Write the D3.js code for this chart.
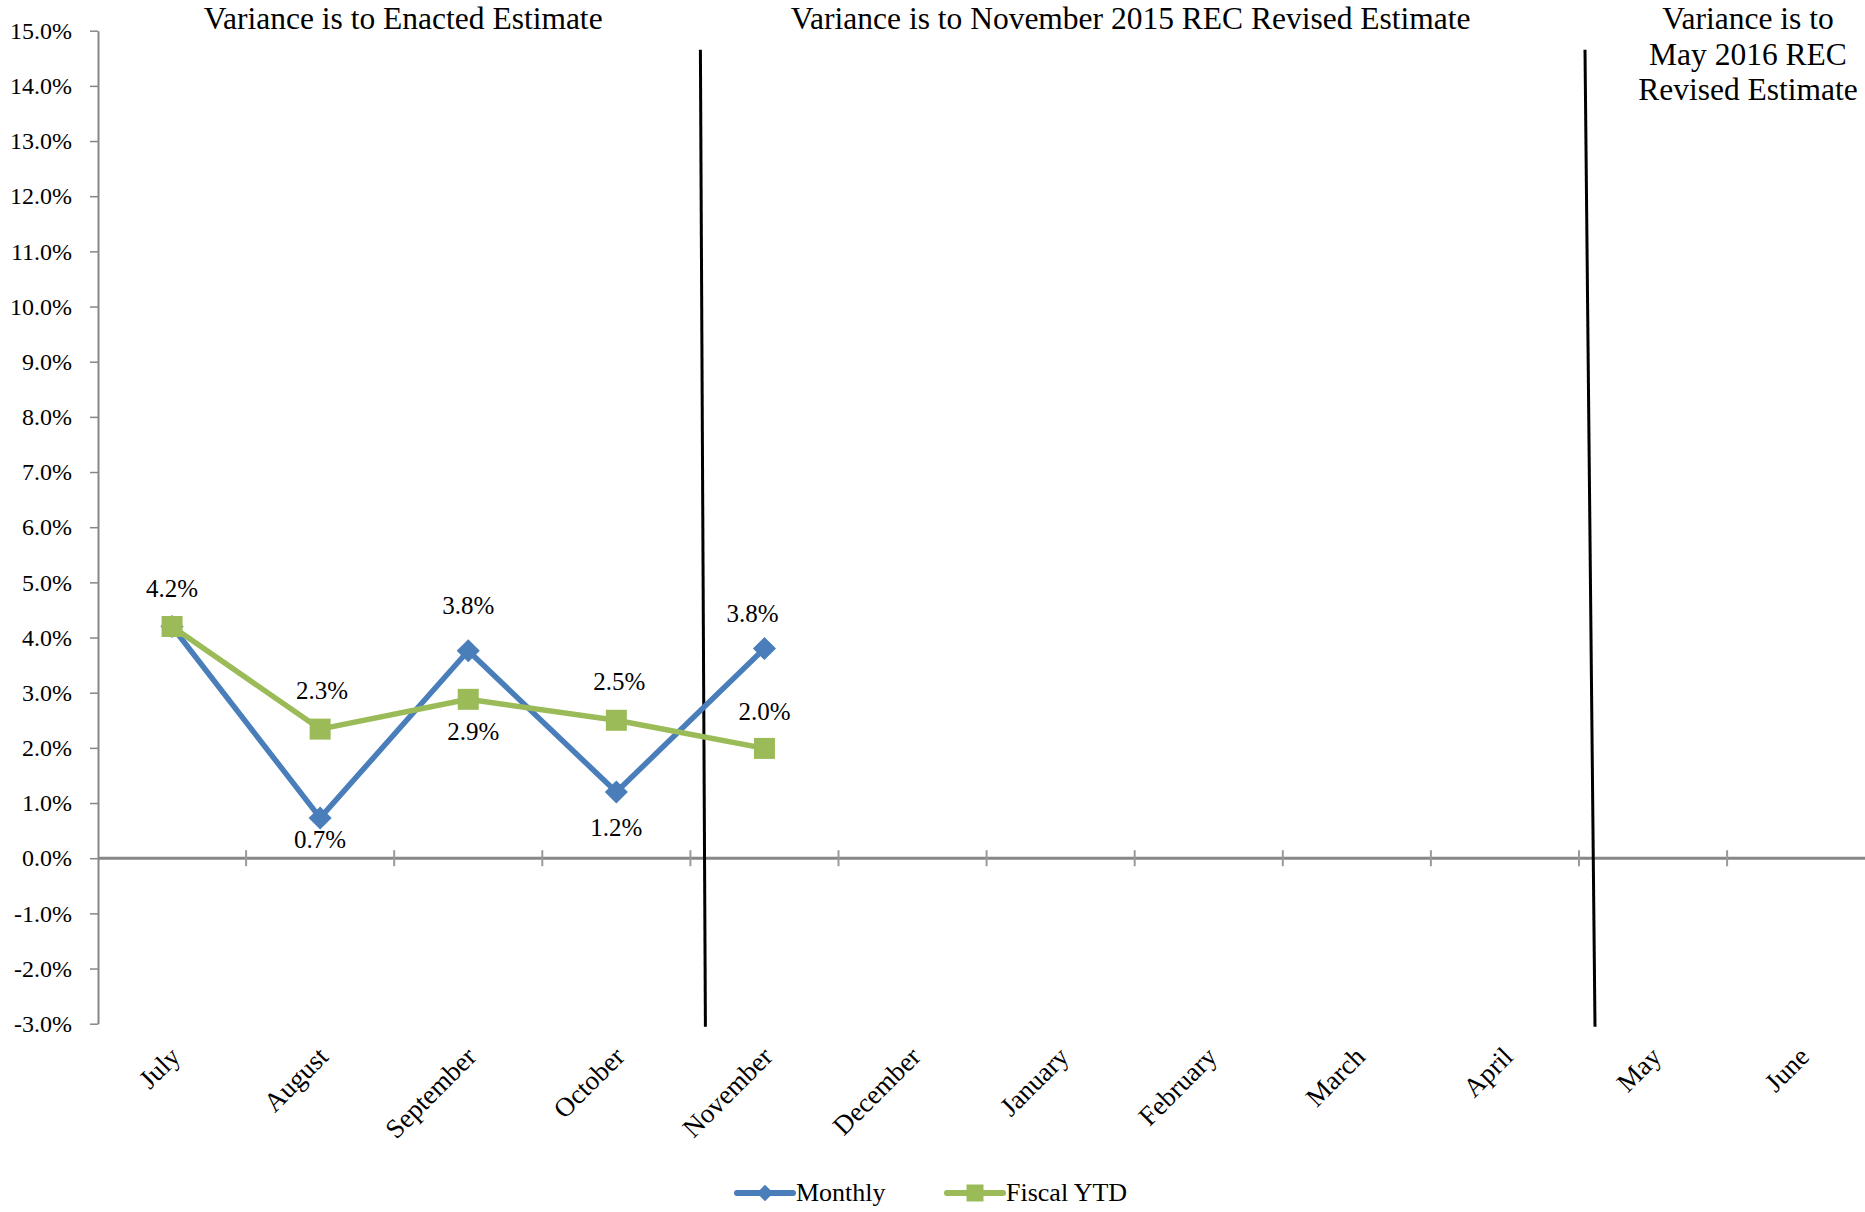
<!DOCTYPE html>
<html>
<head>
<meta charset="utf-8">
<script src="https://cdn.jsdelivr.net/npm/d3@7"></script>
<style>
  body { margin: 0; background: #fff; }
  svg text { font-family: 'Liberation Serif', 'Times New Roman', Times, serif !important; fill: #000; }
</style>
</head>
<body>
<div id="chart"></div>
<script>
/* global d3 */

const months = ['July', 'August', 'September', 'October', 'November', 'December',
  'January', 'February', 'March', 'April', 'May', 'June']
// values in percent
const monthly = [4.2, 0.73, 3.76, 1.2, 3.8]
const fiscalYtd = [4.2, 2.34, 2.88, 2.5, 1.99]
const yTicks = [-3, -2, -1, 0, 1, 2, 3, 4, 5, 6, 7, 8, 9, 10, 11, 12, 13, 14, 15]
const seriesNames = ['Monthly', 'Fiscal YTD']
const periodTitles = [
  ['Variance is to Enacted Estimate'],
  ['Variance is to November 2015 REC Revised Estimate'],
  ['Variance is to', 'May 2016 REC', 'Revised Estimate']
]

const WIDTH = 1865
const HEIGHT = 1212
const SERIF = "'Liberation Serif', 'Times New Roman', Times, serif"
const BLUE = '#4a7ebb'
const GREEN = '#9bbb59'
const AXIS_GREY = '#878787'

const svg = d3.select('#chart')
  .append('svg')
  .attr('width', WIDTH)
  .attr('height', HEIGHT)
  .attr('font-family', SERIF)

const x = d3.scaleBand()
  .domain(months)
  .range([98, 98 + 148.1 * months.length])

const y = d3.scaleLinear()
  .domain([-3, 15])
  .range([1023.7, 30.7])

const cx = (m) => x(m) + x.bandwidth() / 2

// y axis
const yAxis = d3.axisLeft(y)
  .tickValues(yTicks)
  .tickFormat((d) => d.toFixed(1) + '%')
  .tickSizeInner(8)
  .tickSizeOuter(0)
  .tickPadding(18)

const yg = svg.append('g')
  .attr('transform', `translate(${x.range()[0]},0)`)
  .call(yAxis)
  .attr('font-family', SERIF)
  .attr('font-size', 24)
yg.select('.domain').attr('stroke', AXIS_GREY).attr('stroke-width', 2)
yg.selectAll('.tick line').attr('stroke', AXIS_GREY).attr('stroke-width', 1.5)
yg.selectAll('.tick text')
  .attr('font-family', SERIF)
  .attr('fill', '#000')

// category axis sits on the zero line, ticks cross it between categories
const y0 = y(0)
svg.append('line')
  .attr('x1', x.range()[0])
  .attr('x2', x.range()[1])
  .attr('y1', y0)
  .attr('y2', y0)
  .attr('stroke', AXIS_GREY)
  .attr('stroke-width', 3)

svg.selectAll('.xtick')
  .data(months.slice(1))
  .join('line')
  .attr('class', 'xtick')
  .attr('x1', (d) => x(d))
  .attr('x2', (d) => x(d))
  .attr('y1', y0 - 8)
  .attr('y2', y0 + 8)
  .attr('stroke', '#9a9a9a')
  .attr('stroke-width', 2)

svg.selectAll('.xlabel')
  .data(months)
  .join('text')
  .attr('class', 'xlabel')
  .attr('transform', (d) => `translate(${cx(d) + 3},${y(-3) + 28}) rotate(-45)`)
  .attr('text-anchor', 'end')
  .attr('dy', '0.35em')
  .attr('font-family', SERIF)
  .attr('font-size', 27)
  .text((d) => d)

// period separators, slightly slanted as in the original drawing
const separators = [
  { month: 'November', top: 10, bottom: 15 },
  { month: 'May', top: 6, bottom: 16 }
]
svg.selectAll('.sep')
  .data(separators)
  .join('line')
  .attr('class', 'sep')
  .attr('x1', (d) => x(d.month) + d.top)
  .attr('x2', (d) => x(d.month) + d.bottom)
  .attr('y1', y(15) + 19)
  .attr('y2', y(-3) + 3)
  .attr('stroke', '#000')
  .attr('stroke-width', 3)

// period titles
const titleCenters = [
  (x(months[0]) + x('November')) / 2 + 9,
  (x('November') + x('May')) / 2 - 4,
  x('May') + 169
]
periodTitles.forEach((lines, i) => {
  svg.append('text')
    .attr('x', titleCenters[i])
    .attr('y', 29)
    .attr('text-anchor', 'middle')
    .attr('font-family', SERIF)
    .attr('font-size', 31.5)
    .selectAll('tspan')
    .data(lines)
    .join('tspan')
    .attr('x', titleCenters[i])
    .attr('dy', (d, j) => j === 0 ? 0 : 35.5)
    .text((d) => d)
})

// series
const toPoints = (values) => values.map((v, i) => ({ month: months[i], value: v }))
const series = [
  { name: seriesNames[0], color: BLUE, points: toPoints(monthly), marker: 'diamond' },
  { name: seriesNames[1], color: GREEN, points: toPoints(fiscalYtd), marker: 'square' }
]

const line = d3.line()
  .x((d) => cx(d.month))
  .y((d) => y(d.value))

const diamond = (r) => `M0,${-r}L${r},0L0,${r}L${-r},0Z`

const drawMarker = (sel, type, color, size) => {
  if (type === 'diamond') {
    sel.append('path').attr('d', diamond(size * 0.55)).attr('fill', color)
  } else {
    sel.append('rect')
      .attr('x', -size / 2).attr('y', -size / 2)
      .attr('width', size).attr('height', size)
      .attr('fill', color)
  }
}

series.forEach((s) => {
  svg.append('path')
    .datum(s.points)
    .attr('d', line)
    .attr('fill', 'none')
    .attr('stroke', s.color)
    .attr('stroke-width', 5.5)
    .attr('stroke-linejoin', 'round')

  svg.selectAll(null)
    .data(s.points)
    .join('g')
    .attr('transform', (d) => `translate(${cx(d.month)},${y(d.value)})`)
    .each(function() { drawMarker(d3.select(this), s.marker, s.color, 21) })
})

// data labels: baseline offset from the point (null = label not shown)
const labelOffsets = [
  [null, 30, -37, 44, -27],
  [-30, -30, 41, -30, -28]
]
const labelShiftX = [
  [0, 0, 0, 0, -12],
  [0, 2, 5, 3, 0]
]
series.forEach((s, si) => {
  svg.selectAll(null)
    .data(s.points.filter((d, i) => labelOffsets[si][i] !== null))
    .join('text')
    .attr('x', (d) => cx(d.month) + labelShiftX[si][months.indexOf(d.month)])
    .attr('y', (d) => y(d.value) + labelOffsets[si][months.indexOf(d.month)])
    .attr('text-anchor', 'middle')
    .attr('font-family', SERIF)
    .attr('font-size', 25)
    .text((d) => d.value.toFixed(1) + '%')
})

// legend
const legendItems = [
  { series: series[0], x: 737 },
  { series: series[1], x: 947 }
]
const legendY = 1193
const lg = svg.selectAll('.legend')
  .data(legendItems)
  .join('g')
  .attr('class', 'legend')
  .attr('transform', (d) => `translate(${d.x},${legendY})`)

lg.append('line')
  .attr('x1', 0)
  .attr('x2', 56)
  .attr('stroke', (d) => d.series.color)
  .attr('stroke-width', 6)
  .attr('stroke-linecap', 'round')

lg.append('g')
  .attr('transform', 'translate(28,0)')
  .each(function(d) { drawMarker(d3.select(this), d.series.marker, d.series.color, d.series.marker === 'diamond' ? 15 : 17) })

lg.append('text')
  .attr('x', 59)
  .attr('y', 8)
  .attr('font-family', SERIF)
  .attr('font-size', 26)
  .text((d) => d.series.name)
</script>
</body>
</html>
